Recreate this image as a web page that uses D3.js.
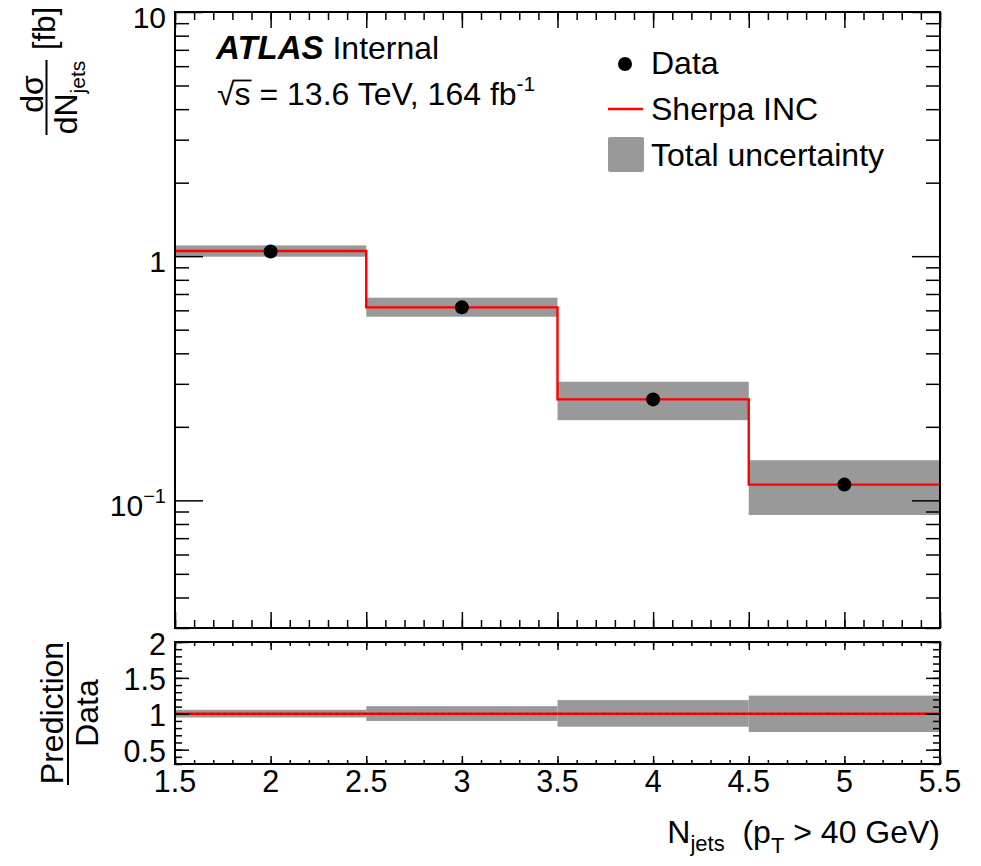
<!DOCTYPE html>
<html><head><meta charset="utf-8">
<script src="https://cdn.jsdelivr.net/npm/d3@7"></script>
<style>
body{margin:0;background:#fff;}
svg{display:block;font-family:"Liberation Sans",Arial,Helvetica,sans-serif;}
text{white-space:pre;}
</style></head><body>
<svg id="c" width="981" height="866"></svg>
<script>
// ---- data ----
const binEdges=[1.5,2.5,3.5,4.5,5.5];
const binCenters=[2,3,4,5];
const dataValues=[1.045,0.617,0.259,0.116];
const sherpaValues=[1.05,0.617,0.259,0.116];
const uncLow=[0.995,0.565,0.213,0.0871];
const uncHigh=[1.107,0.676,0.306,0.146];
const ratioValues=[1,1,1,1];
const ratioLow=[0.948,0.90,0.82,0.746];
const ratioHigh=[1.055,1.106,1.19,1.253];
const xTickValues=[1.5,2,2.5,3,3.5,4,4.5,5,5.5];
const xTickLabels=["1.5","2","2.5","3","3.5","4","4.5","5","5.5"];
const mainYTickValues=[0.1,1,10];
const mainYTickLabels=[["10","\u22121"],["1",""],["10",""]];
const ratioYTickValues=[0.5,1,1.5,2];
const ratioYTickLabels=["0.5","1","1.5","2"];

// ---- layout ----
const L=175,R=940,mT=12,mB=628,rT=642,rB=764;
const svg=d3.select("#c");
const x=d3.scaleLinear().domain([1.5,5.5]).range([L,R]);
const y=d3.scaleLog().domain([0.03,10]).range([mB,mT]);
const yr=d3.scaleLinear().domain([0.3,2]).range([rB,rT]);
const GRAY="#999999",RED="#ff0000";

const main=svg.append("g");
const bins=binCenters.map((c,i)=>({c,i,x0:binEdges[i],x1:binEdges[i+1]}));

// main bands
main.selectAll("rect.band").data(bins).join("rect").attr("class","band")
 .attr("x",d=>x(d.x0)).attr("width",d=>x(d.x1)-x(d.x0))
 .attr("y",d=>y(uncHigh[d.i])).attr("height",d=>y(uncLow[d.i])-y(uncHigh[d.i]))
 .attr("fill",GRAY);
// sherpa step line
const stepPts=[];
bins.forEach(d=>{stepPts.push([d.x0,sherpaValues[d.i]]);stepPts.push([d.x1,sherpaValues[d.i]]);});
main.append("path").attr("d",d3.line().x(p=>x(p[0])).y(p=>y(p[1]))(stepPts))
 .attr("fill","none").attr("stroke",RED).attr("stroke-width",2.4);
// data points
main.selectAll("circle.pt").data(bins).join("circle").attr("class","pt")
 .attr("cx",d=>x(d.c)).attr("cy",d=>y(dataValues[d.i])).attr("r",7).attr("fill","#000");

// ratio bands
svg.selectAll("rect.rband").data(bins).join("rect").attr("class","rband")
 .attr("x",d=>x(d.x0)).attr("width",d=>x(d.x1)-x(d.x0))
 .attr("y",d=>yr(ratioHigh[d.i])).attr("height",d=>yr(ratioLow[d.i])-yr(ratioHigh[d.i]))
 .attr("fill",GRAY);
const rPts=[];
bins.forEach(d=>{rPts.push([d.x0,ratioValues[d.i]]);rPts.push([d.x1,ratioValues[d.i]]);});
svg.append("path").attr("d",d3.line().x(p=>x(p[0])).y(p=>yr(p[1]))(rPts))
 .attr("fill","none").attr("stroke",RED).attr("stroke-width",2.6);
svg.append("path").attr("d",d3.line().x(p=>x(p[0])).y(p=>yr(p[1]))(rPts))
 .attr("fill","none").attr("stroke","#a00000").attr("stroke-width",1).attr("stroke-dasharray","3,4");

// ---- ticks via axes ----
function styleAxis(g){g.select(".domain").remove();g.selectAll("line").attr("stroke","#000").attr("stroke-width",1.5);}
const xMinor=d3.range(15,56).map(v=>v/10);
function addAxis(axis,tx,ty){svg.append("g").attr("transform",`translate(${tx},${ty})`).call(axis).call(styleAxis);}
// main x
addAxis(d3.axisBottom(x).tickValues(xMinor).tickSize(-8).tickFormat(""),0,mB);
addAxis(d3.axisBottom(x).tickValues(xTickValues).tickSize(-16).tickFormat(""),0,mB);
addAxis(d3.axisTop(x).tickValues(xMinor).tickSize(-8).tickFormat(""),0,mT);
addAxis(d3.axisTop(x).tickValues(xTickValues).tickSize(-16).tickFormat(""),0,mT);
// main y
const yMinor=[];
[0.01,0.1,1].forEach(dec=>{for(let k=2;k<=9;k++){const v=dec*k;if(v>=0.03&&v<=10)yMinor.push(v);}});
addAxis(d3.axisLeft(y).tickValues(yMinor).tickSize(-14).tickFormat(""),L,0);
addAxis(d3.axisLeft(y).tickValues(mainYTickValues).tickSize(-28).tickFormat(""),L,0);
addAxis(d3.axisRight(y).tickValues(yMinor).tickSize(-14).tickFormat(""),R,0);
addAxis(d3.axisRight(y).tickValues(mainYTickValues).tickSize(-28).tickFormat(""),R,0);
// ratio x
addAxis(d3.axisBottom(x).tickValues(xMinor).tickSize(-4).tickFormat(""),0,rB);
addAxis(d3.axisBottom(x).tickValues(xTickValues).tickSize(-8).tickFormat(""),0,rB);
addAxis(d3.axisTop(x).tickValues(xMinor).tickSize(-4).tickFormat(""),0,rT);
addAxis(d3.axisTop(x).tickValues(xTickValues).tickSize(-8).tickFormat(""),0,rT);
// ratio y
const rMinor=d3.range(3,21).map(v=>v/10);
addAxis(d3.axisLeft(yr).tickValues(rMinor).tickSize(-7).tickFormat(""),L,0);
addAxis(d3.axisLeft(yr).tickValues(ratioYTickValues).tickSize(-14).tickFormat(""),L,0);
addAxis(d3.axisRight(yr).tickValues(rMinor).tickSize(-7).tickFormat(""),R,0);
addAxis(d3.axisRight(yr).tickValues(ratioYTickValues).tickSize(-14).tickFormat(""),R,0);

// frames
svg.append("rect").attr("x",L).attr("y",mT).attr("width",R-L).attr("height",mB-mT)
 .attr("fill","none").attr("stroke","#000").attr("stroke-width",2);
svg.append("rect").attr("x",L).attr("y",rT).attr("width",R-L).attr("height",rB-rT)
 .attr("fill","none").attr("stroke","#000").attr("stroke-width",2);

// ---- tick labels ----
const FS=30;
svg.selectAll("text.xl").data(xTickValues).join("text").attr("class","xl")
 .attr("x",d=>x(d)).attr("y",792).attr("text-anchor","middle").attr("font-size",30.5)
 .text((d,i)=>xTickLabels[i]);
mainYTickValues.forEach((v,i)=>{
 const t=svg.append("text").attr("x",166).attr("y",y(v)+15.5).attr("text-anchor","end").attr("font-size",FS);
 t.append("tspan").text(mainYTickLabels[i][0]);
 if(mainYTickLabels[i][1]) t.append("tspan").attr("font-size",20).attr("dy",-13).text(mainYTickLabels[i][1]);
});
svg.selectAll("text.ryl").data(ratioYTickValues).join("text").attr("class","ryl")
 .attr("x",166).attr("y",d=>yr(d)+12.5).attr("text-anchor","end").attr("font-size",30.5)
 .text((d,i)=>ratioYTickLabels[i]);

// ---- axis titles ----
svg.append("line").attr("x1",46.5).attr("x2",46.5).attr("y1",60).attr("y2",135).attr("stroke","#000").attr("stroke-width",2);
svg.append("text").attr("transform","translate(43,94) rotate(-90)").attr("text-anchor","middle").attr("font-size",32).text("d\u03C3");
const dn=svg.append("text").attr("transform","translate(77,97.5) rotate(-90)").attr("text-anchor","middle").attr("font-size",32);
dn.append("tspan").text("dN");
dn.append("tspan").attr("font-size",21).attr("dy",8).text("jets");
svg.append("text").attr("transform","translate(55,28.5) rotate(-90)").attr("text-anchor","middle").attr("font-size",31).text("[fb]");
// ratio y title
svg.append("line").attr("x1",68).attr("x2",68).attr("y1",642).attr("y2",785).attr("stroke","#000").attr("stroke-width",2);
svg.append("text").attr("transform","translate(63,713) rotate(-90)").attr("text-anchor","middle").attr("font-size",32).text("Prediction");
svg.append("text").attr("transform","translate(98,713) rotate(-90)").attr("text-anchor","middle").attr("font-size",32).text("Data");
// x title
const xt=svg.append("text").attr("x",940).attr("y",843).attr("text-anchor","end").attr("font-size",32);
xt.append("tspan").text("N");
xt.append("tspan").attr("font-size",22).attr("dy",8).text("jets");
xt.append("tspan").attr("dy",-8).text("  (p");
xt.append("tspan").attr("font-size",22).attr("dy",10).text("T");
xt.append("tspan").attr("dy",-10).text(" > 40 GeV)");

// ---- ATLAS label ----
const at=svg.append("text").attr("x",216).attr("y",59).attr("font-size",32);
at.append("tspan").attr("font-weight","bold").attr("font-style","italic").attr("font-size",33).text("ATLAS");
at.append("tspan").text(" Internal");
const ss=svg.append("text").attr("x",217).attr("y",105).attr("font-size",32);
ss.append("tspan").text("\u221As = 13.6 TeV, 164 fb");
ss.append("tspan").attr("font-size",21).attr("dy",-14).text("-1");
{
 const n=ss.node();
 const a=n.getSubStringLength(0,1), b=n.getSubStringLength(0,2);
 svg.append("line").attr("x1",217+a-1).attr("x2",217+b+1).attr("y1",105-24.5).attr("y2",105-24.5).attr("stroke","#000").attr("stroke-width",1.8);
}

// ---- legend ----
const LX=651;
svg.append("circle").attr("cx",625).attr("cy",64).attr("r",7).attr("fill","#000");
svg.append("line").attr("x1",608).attr("x2",643).attr("y1",109).attr("y2",109).attr("stroke",RED).attr("stroke-width",2.4);
svg.append("rect").attr("x",608).attr("y",137).attr("width",36).attr("height",35).attr("rx",2).attr("fill",GRAY);
svg.append("text").attr("x",LX).attr("y",74).attr("font-size",32).text("Data");
svg.append("text").attr("x",LX).attr("y",119.5).attr("font-size",32).text("Sherpa INC");
svg.append("text").attr("x",LX).attr("y",166).attr("font-size",32).text("Total uncertainty");
</script>
</body></html>
